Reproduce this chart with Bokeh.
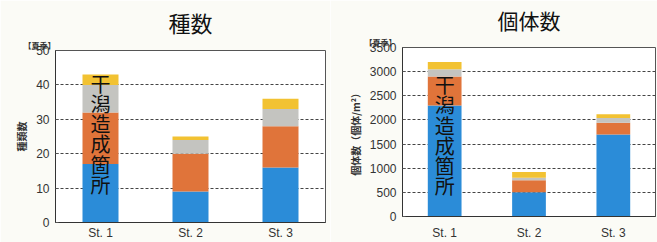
from bokeh.plotting import figure
from bokeh.layouts import row
from bokeh.models import Title, ColumnDataSource, FixedTicker
from bokeh.core.properties import value
from bokeh.embed import file_html
from bokeh.resources import INLINE

stations = ["St. 1", "St. 2", "St. 3"]
groups = ["g1", "g2", "g3", "g4"]
colors = ["#2b8cd8", "#e0743a", "#c4c4c0", "#f2c232"]

# 種数 (species count)
sp_g1 = [17, 9, 16]
sp_g2 = [15, 11, 12]
sp_g3 = [8, 4, 5]
sp_g4 = [3, 1, 3]

# 個体数 (individuals / m2)
ind_g1 = [2300, 500, 1700]
ind_g2 = [600, 250, 240]
ind_g3 = [150, 50, 100]
ind_g4 = [150, 120, 80]

note_text = "干\n潟\n造\n成\n箇\n所"
season = "【夏季】"

JP = "Noto Sans CJK JP"
NUM = "Liberation Sans"


def make(title, ylabel, data, ymax, step, width, bl, br, bt, bb, xstand, yoff, soff, tsize):
    src = ColumnDataSource(dict(x=stations, g1=data[0], g2=data[1], g3=data[2], g4=data[3]))
    p = figure(x_range=stations, y_range=(0, ymax), width=width, height=242,
               output_backend="svg", toolbar_location=None,
               min_border_left=bl, min_border_right=br, min_border_top=bt, min_border_bottom=bb)
    if "frame_align" in p.properties():
        p.frame_align = False
    p.vbar_stack(groups, x="x", width=0.4, color=colors, source=src, line_color=None)
    total = [sum(v) for v in zip(*data)]
    p.text(x=[stations[0]], y=[total[0]], text=[note_text], text_align="center",
           text_baseline="top", text_font=value(JP), text_font_size="20px",
           text_line_height=0.70, text_color="#111111", y_offset=yoff)
    p.add_layout(Title(text=season, align="left", text_font=JP, text_font_size="8px",
                       text_font_style="bold", text_color="#333333", offset=soff,
                       standoff=0), "above")
    p.add_layout(Title(text=title, align="center", text_font=JP, text_font_size=tsize,
                       text_font_style="normal", text_color="#111111", standoff=0), "above")
    p.x_range.range_padding = 0
    p.xgrid.grid_line_color = None
    p.ygrid.grid_line_color = "#444444"
    p.ygrid.grid_line_dash = "3 2"
    p.ygrid.grid_line_width = 1
    p.yaxis.ticker = FixedTicker(ticks=list(range(0, ymax + 1, step)))
    p.yaxis.axis_label = ylabel
    p.yaxis.axis_label_text_font = JP
    p.yaxis.axis_label_text_font_size = "10px"
    p.yaxis.axis_label_text_font_style = "bold"
    p.yaxis.axis_label_text_color = "#333333"
    p.yaxis.axis_label_standoff = 4
    for ax in (p.xaxis[0], p.yaxis[0]):
        ax.major_label_text_font = NUM
        ax.major_label_text_font_size = "12px"
        ax.major_label_text_color = "#333333"
        ax.minor_tick_line_color = None
        ax.axis_line_color = "#333333"
    p.xaxis.major_tick_line_color = None
    p.xaxis.major_tick_in = 0
    p.xaxis.major_tick_out = 0
    p.yaxis.major_tick_in = 3
    p.yaxis.major_tick_out = 0
    p.yaxis.major_tick_line_color = "#555555"
    p.xaxis.major_label_standoff = xstand
    p.yaxis.major_label_standoff = 6
    p.outline_line_color = "#555555"
    p.background_fill_color = "#ffffff"
    p.border_fill_color = "#fbfbf6"
    return p


p1 = make("種数", "種類数", [sp_g1, sp_g2, sp_g3, sp_g4], 50, 10, 330, 55, 5, 50, 10,
          3, -6, -32, "22px")
p2 = make("個体数", "個体数（個体/m²）", [ind_g1, ind_g2, ind_g3, ind_g4], 3500, 500, 327, 72, 2, 47, 10,
          9, 8, -38, "21px")

layout = row(p1, p2, spacing=0)
open("out.html", "w").write(file_html(layout, INLINE))
